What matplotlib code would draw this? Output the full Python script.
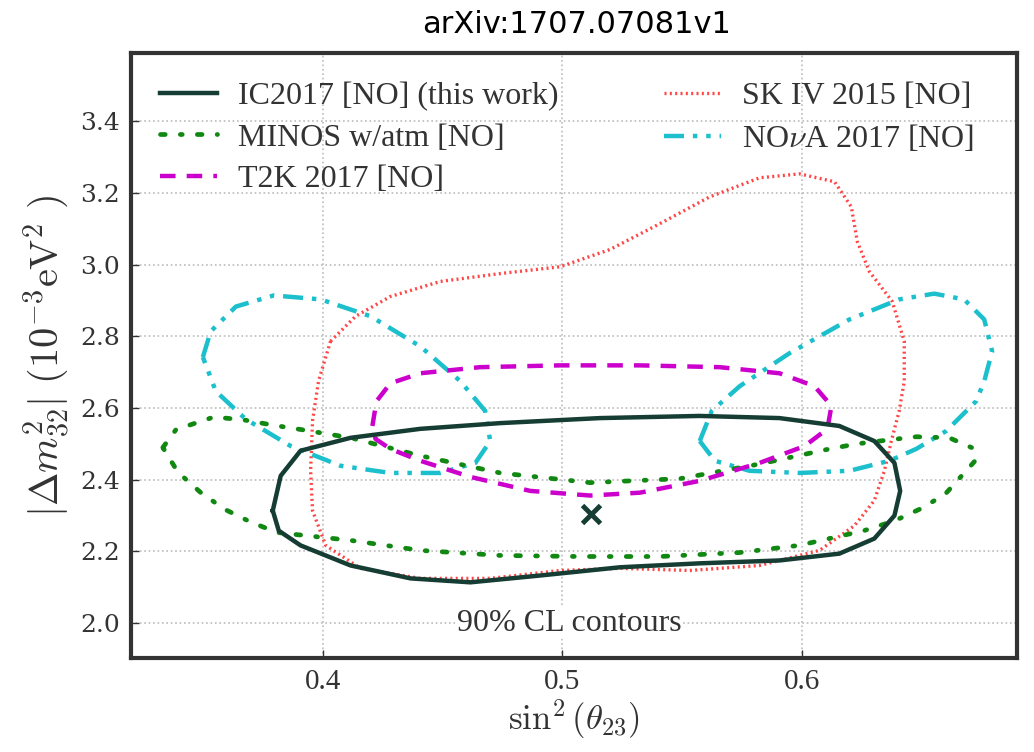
import matplotlib
matplotlib.use("Agg")
import matplotlib.pyplot as plt

plt.rcParams['mathtext.fontset'] = 'cm'

# contornos 90% CL (sin^2 theta23, dm2 en 1e-3 eV^2)
ic_x = [0.3792, 0.3825, 0.3908, 0.4117, 0.4408, 0.4742, 0.5158, 0.5575, 0.5908, 0.6158, 0.6304,
        0.6388, 0.6412, 0.6388, 0.6304, 0.6158, 0.5908, 0.5575, 0.5242, 0.4908, 0.4617, 0.4367,
        0.4117, 0.3908, 0.3817]
ic_y = [2.314, 2.411, 2.481, 2.517, 2.542, 2.558, 2.572, 2.578, 2.572, 2.550, 2.508,
        2.447, 2.369, 2.300, 2.236, 2.194, 2.175, 2.167, 2.156, 2.133, 2.114, 2.125,
        2.161, 2.217, 2.258]

minos_x = [0.3333, 0.3388, 0.3546, 0.367, 0.3796, 0.391, 0.4117, 0.4408, 0.4742, 0.5117, 0.5492,
           0.5825, 0.6117, 0.623, 0.635, 0.648, 0.6617, 0.6713, 0.6725, 0.660, 0.650, 0.639,
           0.626, 0.599, 0.574, 0.541, 0.5075, 0.474, 0.441, 0.4117, 0.381, 0.370, 0.359,
           0.349, 0.3396]
minos_y = [2.490, 2.540, 2.575, 2.567, 2.552, 2.540, 2.517, 2.467, 2.419, 2.392, 2.403,
           2.444, 2.486, 2.500, 2.510, 2.520, 2.517, 2.489, 2.453, 2.360, 2.320, 2.286,
           2.258, 2.217, 2.197, 2.186, 2.186, 2.189, 2.203, 2.231, 2.253, 2.282, 2.318,
           2.365, 2.421]

t2k_x = [0.4208, 0.4225, 0.4283, 0.4408, 0.4658, 0.4992, 0.5325, 0.5658, 0.5908, 0.6054, 0.6125,
         0.6108, 0.6013, 0.5825, 0.5575, 0.5325, 0.5117, 0.4867, 0.4617, 0.4408, 0.4283, 0.4221]
t2k_y = [2.550, 2.619, 2.669, 2.697, 2.714, 2.719, 2.719, 2.714, 2.697, 2.661, 2.606,
         2.542, 2.494, 2.447, 2.397, 2.364, 2.356, 2.369, 2.408, 2.453, 2.486, 2.514]

sk_x = [0.4033, 0.4138, 0.4283, 0.4492, 0.4742, 0.4992, 0.520, 0.5408, 0.5617, 0.5825, 0.5992,
        0.6138, 0.6208, 0.6233, 0.6283, 0.6379, 0.6429, 0.6429, 0.6408, 0.6375, 0.6346, 0.6304,
        0.6221, 0.6075, 0.5825, 0.5533, 0.5242, 0.4992, 0.470, 0.4408, 0.4158, 0.4013, 0.3958,
        0.395, 0.3958, 0.3983]
sk_y = [2.786, 2.856, 2.911, 2.953, 2.975, 2.994, 3.042, 3.114, 3.189, 3.242, 3.253,
        3.231, 3.161, 3.064, 2.981, 2.897, 2.786, 2.675, 2.592, 2.508, 2.425, 2.342,
        2.272, 2.203, 2.161, 2.147, 2.153, 2.147, 2.125, 2.125, 2.153, 2.217, 2.314,
        2.425, 2.564, 2.675]

# NOvA tiene dos islas (un octante a cada lado)
nova1_x = [0.350, 0.3533, 0.3638, 0.3796, 0.3992, 0.420, 0.4408, 0.4575, 0.4679, 0.470, 0.4638,
           0.4492, 0.4283, 0.4075, 0.3867, 0.3679, 0.3554]
nova1_y = [2.742, 2.814, 2.883, 2.914, 2.903, 2.856, 2.772, 2.675, 2.592, 2.508, 2.447,
           2.419, 2.419, 2.439, 2.494, 2.569, 2.647]
nova2_x = [0.5575, 0.5625, 0.5742, 0.595, 0.620, 0.6408, 0.6554, 0.6679, 0.6763, 0.6796, 0.6763,
           0.6729, 0.6604, 0.6479, 0.6367, 0.620, 0.5992, 0.5783, 0.5638]
nova2_y = [2.508, 2.592, 2.661, 2.753, 2.847, 2.903, 2.919, 2.903, 2.847, 2.758, 2.675,
           2.619, 2.536, 2.486, 2.453, 2.425, 2.419, 2.425, 2.453]

best_x = 0.512
best_y = 2.305

xticks = [0.4, 0.5, 0.6]
yticks = [2.0, 2.2, 2.4, 2.6, 2.8, 3.0, 3.2, 3.4]


def cerrar(a):
    return list(a) + [a[0]]


fig = plt.figure(figsize=(10.34, 7.52), dpi=100)
ax = fig.add_axes([0.1267, 0.125, 0.8569, 0.8045])

ic, = ax.plot(cerrar(ic_x), cerrar(ic_y), color='#163d33', lw=3.2, label='IC2017 [NO] (this work)', zorder=5)
mi, = ax.plot(cerrar(minos_x), cerrar(minos_y), color='#118811', lw=3.4, dashes=(1, 3.2, 0.4, 3.2),
              dash_capstyle='round', label='MINOS w/atm [NO]', zorder=4)
t2, = ax.plot(cerrar(t2k_x), cerrar(t2k_y), color='#cc00cc', lw=3.2, dashes=(3.5, 2.5),
              label='T2K 2017 [NO]', zorder=4)
sk, = ax.plot(cerrar(sk_x), cerrar(sk_y), color='#ff4545', lw=2.4, dashes=(0.6, 1.0),
              label='SK IV 2015 [NO]', zorder=3)
no, = ax.plot(cerrar(nova1_x), cerrar(nova1_y), color='#1cbfcc', lw=3.2, dashes=(4.5, 2, 1, 2, 1, 2),
              label=r'NO$\nu$A 2017 [NO]', zorder=3)
ax.plot(cerrar(nova2_x), cerrar(nova2_y), color='#1cbfcc', lw=3.2, dashes=(4.5, 2, 1, 2, 1, 2), zorder=3)

ax.plot([best_x], [best_y], marker='x', color='#163d33', ms=13, mew=3.5, ls='none', zorder=6)

ax.text(0.503, 2.0, '90% CL contours', ha='center', va='center', fontsize=23,
        family='Liberation Serif', color='#333333',
        bbox=dict(facecolor='white', edgecolor='none', pad=1))

ax.set_xlim(0.32, 0.69)
ax.set_ylim(1.903, 3.59)
ax.set_xticks(xticks)
ax.set_yticks(yticks)
ax.set_xticklabels([f'{t:.1f}' for t in xticks], family='Liberation Serif', fontsize=21)
ax.set_yticklabels([f'{t:.1f}' for t in yticks], family='DejaVu Serif', fontsize=18)
ax.tick_params(direction='in', length=6, width=1, colors='#333333', pad=8)
ax.grid(True, ls=':', color='#bbbbbb', lw=1.2)
for s in ax.spines.values():
    s.set_linewidth(3)
    s.set_color('#333333')

ax.set_xlabel(r'$\sin^2(\theta_{23})$', fontsize=25, color='#333333', labelpad=2)
ax.set_ylabel(r'$|\Delta m^2_{32}|\ (10^{-3}\mathrm{eV}^2\ )$', fontsize=29, color='#333333', labelpad=6)

leg = ax.legend([ic, mi, t2, sk, no], [h.get_label() for h in [ic, mi, t2, sk, no]],
                loc='upper left', ncol=2, frameon=False, prop={'family': 'Liberation Serif', 'size': 23},
                handlelength=1.8, handletextpad=0.65, columnspacing=3.3, borderaxespad=0.5,
                labelspacing=0.38, bbox_to_anchor=(0.0, 1.0))
for t in leg.get_texts():
    t.set_color('#333333')

fig.text(0.558, 0.968, 'arXiv:1707.07081v1', ha='center', va='center', fontsize=22, color='black')

fig.savefig('out.png', dpi=100)
